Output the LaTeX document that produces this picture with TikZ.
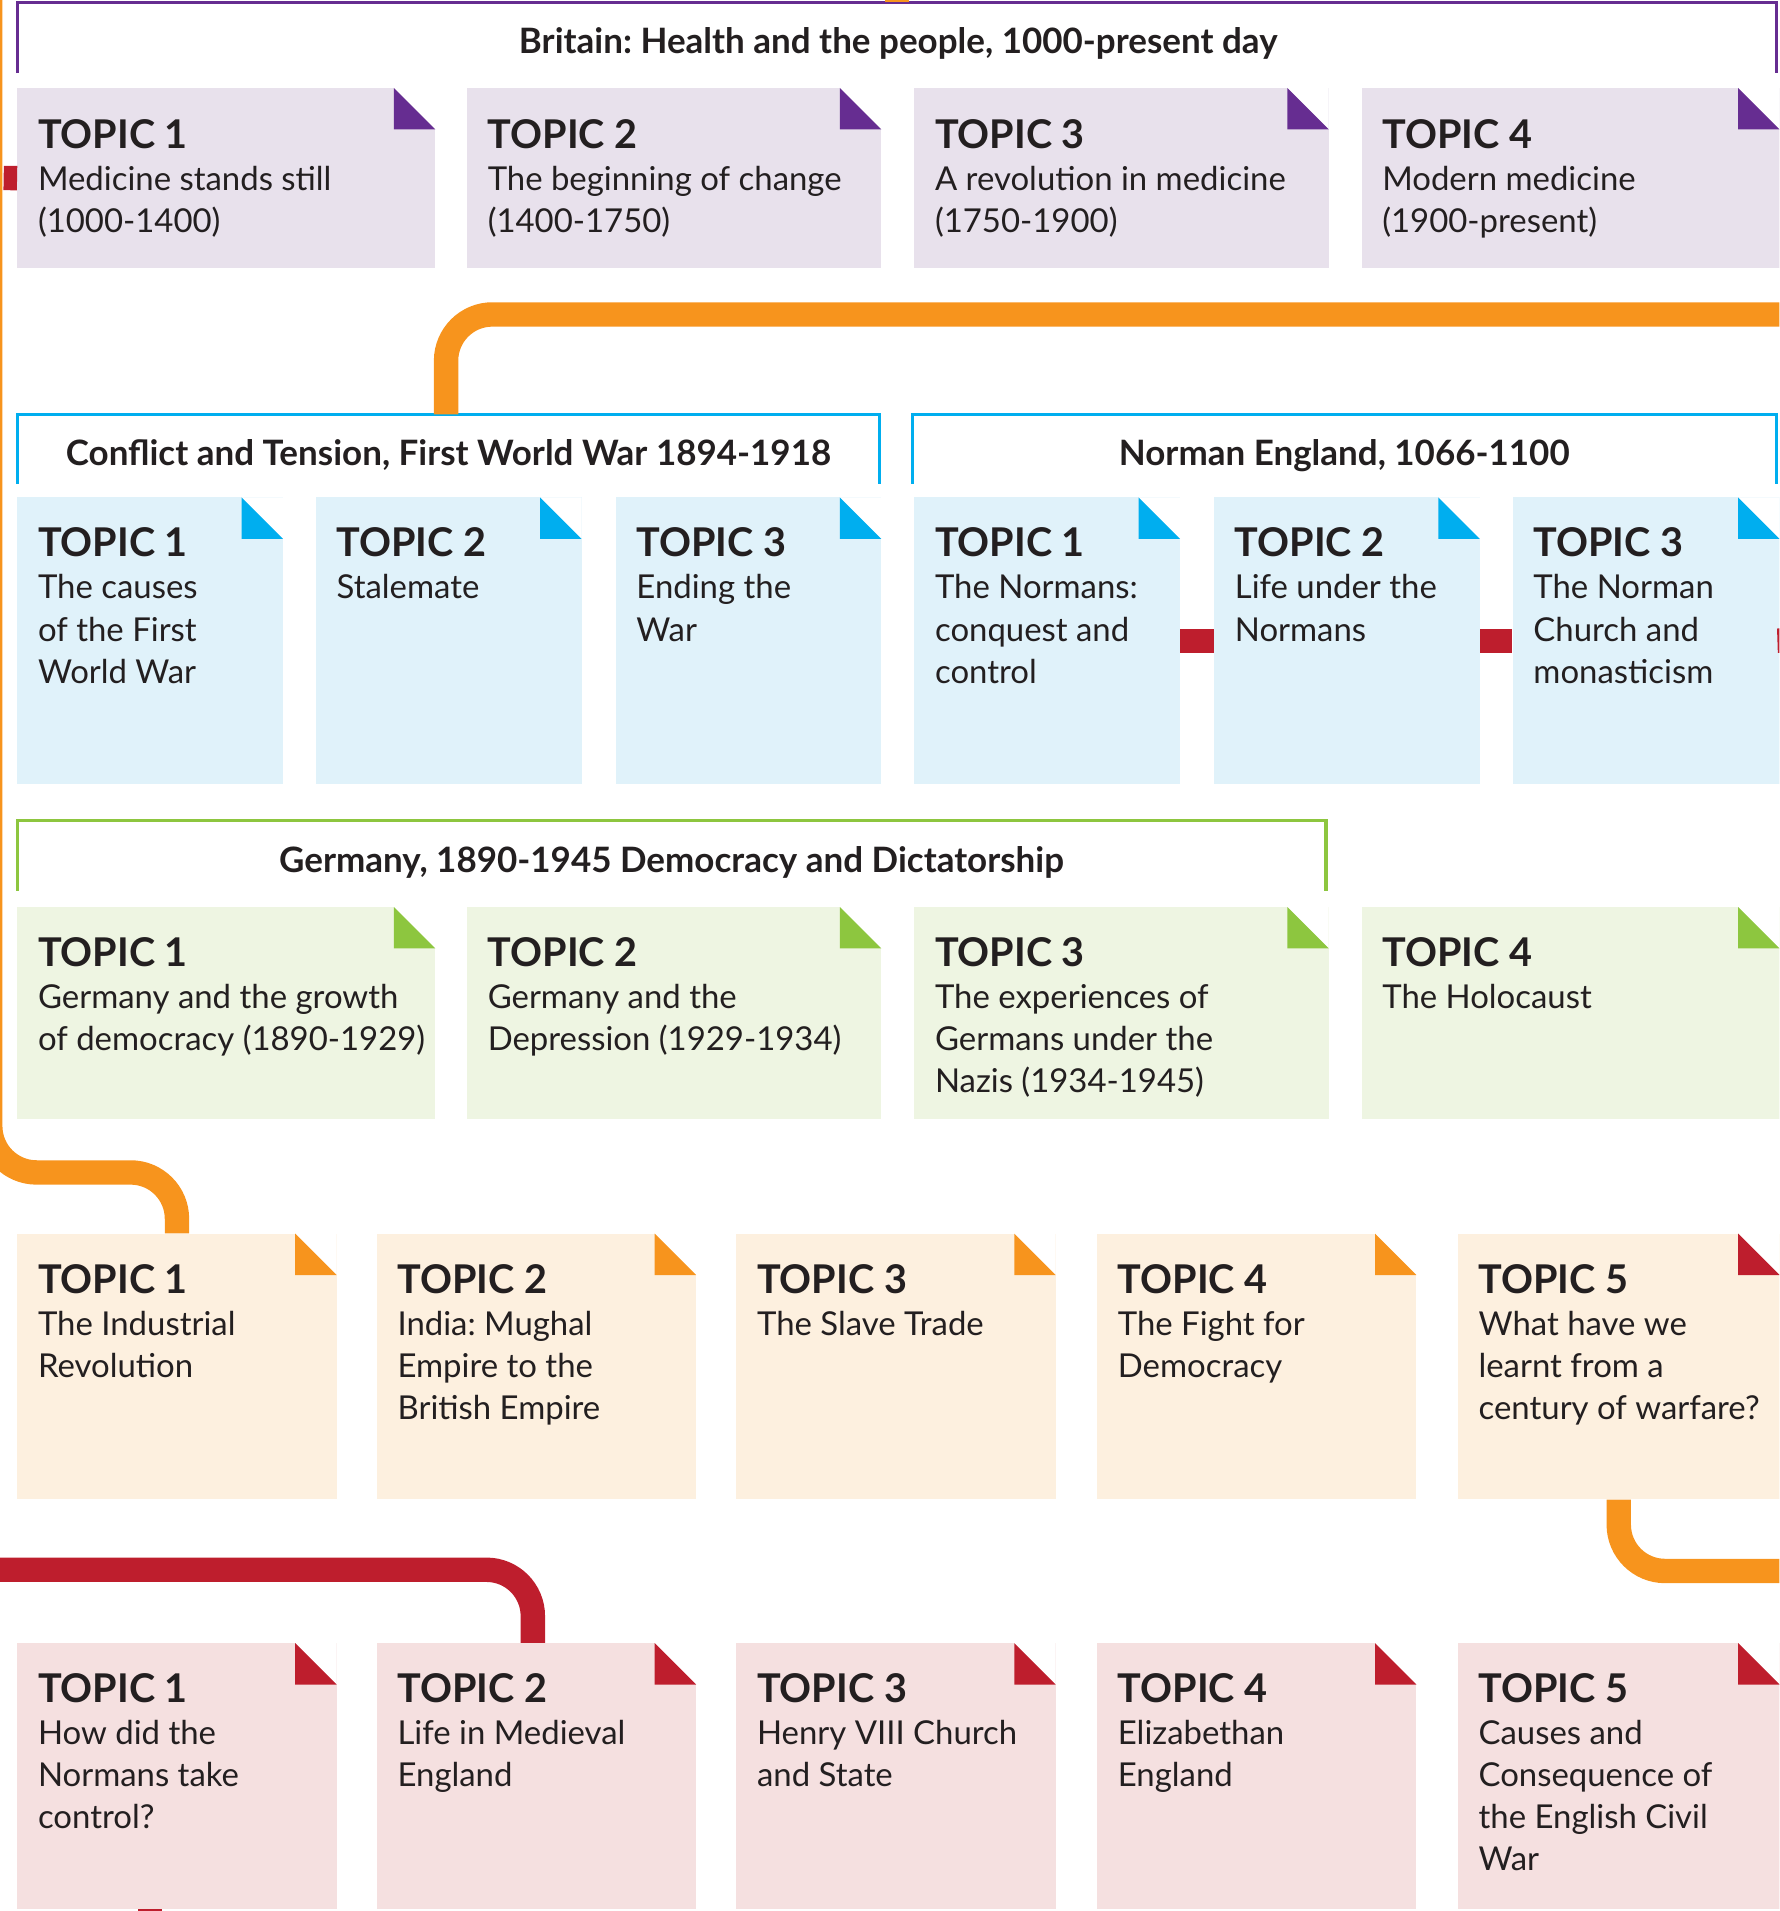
\documentclass[tikz,border=0pt]{standalone}
\usepackage{fontspec}
\setmainfont{Lato}
\usetikzlibrary{positioning}
\frenchspacing
\definecolor{ink}{HTML}{231F20}
\definecolor{purple}{HTML}{662D91}
\definecolor{lightpurple}{HTML}{E8E1EC}
\definecolor{blue}{HTML}{00AEEF}
\definecolor{lightblue}{HTML}{E0F2FA}
\definecolor{green}{HTML}{8DC63F}
\definecolor{lightgreen}{HTML}{EEF5E2}
\definecolor{orange}{HTML}{F7941D}
\definecolor{lightorange}{HTML}{FDF0DF}
\definecolor{red}{HTML}{BE1E2D}
\definecolor{lightred}{HTML}{F5E0E0}
\newcommand{\topicno}[1]{{\fontsize{32.5}{34.5}\selectfont\bfseries TOPIC #1}}

\begin{document}
\begin{tikzpicture}[x=1pt,y=-1pt,
	box/.style 2 args={fill=#1,anchor=north west,inner sep=0pt,
		path picture={
			\fill[white] ([xshift=-34pt]path picture bounding box.north east) -- (path picture bounding box.north east) -- ([yshift=-34pt]path picture bounding box.north east) -- cycle;
			\fill[#2] ([xshift=-34pt]path picture bounding box.north east) -- ([xshift=-34pt,yshift=-34pt]path picture bounding box.north east) -- ([yshift=-34pt]path picture bounding box.north east) -- cycle;}},
	txt/.style={anchor=north west,inner sep=0pt,align=left,text=ink,font=\fontsize{27}{34.5}\selectfont},
	heading/.style={anchor=base,inner sep=0pt,text=ink,font=\fontsize{28.7}{32}\selectfont\bfseries},
	frame/.style={line width=2.5pt,#1},
	route/.style={line width=20pt,#1,rounded corners=38pt}]
	\useasboundingbox (0,0) rectangle (1460,1568);
	\clip (0,0) rectangle (1460,1568);

	% Britain: health and the people
	\draw[frame=purple] (14,60) |- (1458,2) -- (1458,60);
	\node[heading] (britain) at (737,44) {Britain: Health and the people, 1000-present day};
	\coordinate (britaintop) at (736,2);
	\node[box={lightpurple}{purple},minimum width=343,minimum height=148] (brit1) at (14,72) {};
	\node[box={lightpurple}{purple},minimum width=340,minimum height=148] (brit2) at (383,72) {};
	\node[box={lightpurple}{purple},minimum width=340,minimum height=148] (brit3) at (750,72) {};
	\node[box={lightpurple}{purple},minimum width=343,minimum height=148] (brit4) at (1117,72) {};
	\node[txt,below right=26pt and 17pt of brit1.north west] (brit1t) {\topicno{1}\\Medicine stands still\\(1000-1400)};
	\node[txt,below right=26pt and 17pt of brit2.north west] (brit2t) {\topicno{2}\\The beginning of change\\(1400-1750)};
	\node[txt,below right=26pt and 17pt of brit3.north west] (brit3t) {\topicno{3}\\A revolution in medicine\\(1750-1900)};
	\node[txt,below right=26pt and 17pt of brit4.north west] (brit4t) {\topicno{4}\\Modern medicine\\(1900-present)};

	% Conflict and tension
	\draw[frame=blue] (14,397) |- (722,340) -- (722,397);
	\node[heading] (conflict) at (368,382) {Conflict and Tension, First World War 1894-1918};
	\coordinate (conflicttop) at (366,340);
	\node[box={lightblue}{blue},minimum width=218,minimum height=235] (ww1) at (14,408) {};
	\node[box={lightblue}{blue},minimum width=218,minimum height=235] (ww2) at (259,408) {};
	\node[box={lightblue}{blue},minimum width=218,minimum height=235] (ww3) at (505,408) {};
	\node[txt,below right=25pt and 17pt of ww1.north west] (ww1t) {\topicno{1}\\The causes\\of the First\\World War};
	\node[txt,below right=25pt and 17pt of ww2.north west] (ww2t) {\topicno{2}\\Stalemate};
	\node[txt,below right=25pt and 17pt of ww3.north west] (ww3t) {\topicno{3}\\Ending the\\War};

	% Norman England
	\draw[frame=blue] (749,397) |- (1458,340) -- (1458,397);
	\node[heading] (norman) at (1103,382) {Norman England, 1066-1100};
	\node[box={lightblue}{blue},minimum width=218,minimum height=235] (norm1) at (750,408) {};
	\node[box={lightblue}{blue},minimum width=218,minimum height=235] (norm2) at (996,408) {};
	\node[box={lightblue}{blue},minimum width=219,minimum height=235] (norm3) at (1241,408) {};
	\node[txt,below right=25pt and 17pt of norm1.north west] (norm1t) {\topicno{1}\\The Normans:\\conquest and\\control};
	\node[txt,below right=25pt and 17pt of norm2.north west] (norm2t) {\topicno{2}\\Life under the\\Normans};
	\node[txt,below right=25pt and 17pt of norm3.north west] (norm3t) {\topicno{3}\\The Norman\\Church and\\monasticism};

	% Germany
	\draw[frame=green] (14,731) |- (1088,673) -- (1088,731);
	\node[heading] (germany) at (551,716) {Germany, 1890-1945 Democracy and Dictatorship};
	\node[box={lightgreen}{green},minimum width=343,minimum height=174] (germ1) at (14,744) {};
	\node[box={lightgreen}{green},minimum width=340,minimum height=174] (germ2) at (383,744) {};
	\node[box={lightgreen}{green},minimum width=340,minimum height=174] (germ3) at (750,744) {};
	\node[box={lightgreen}{green},minimum width=343,minimum height=174] (germ4) at (1117,744) {};
	\node[txt,below right=25pt and 17pt of germ1.north west] (germ1t) {\topicno{1}\\Germany and the growth\\of democracy (1890-1929)};
	\node[txt,below right=25pt and 17pt of germ2.north west] (germ2t) {\topicno{2}\\Germany and the\\Depression (1929-1934)};
	\node[txt,below right=25pt and 17pt of germ3.north west] (germ3t) {\topicno{3}\\The experiences of\\Germans under the\\Nazis (1934-1945)};
	\node[txt,below right=25pt and 17pt of germ4.north west] (germ4t) {\topicno{4}\\The Holocaust};

	% thematic row
	\node[box={lightorange}{orange},minimum width=262,minimum height=218] (them1) at (14,1012) {};
	\node[box={lightorange}{orange},minimum width=262,minimum height=218] (them2) at (309,1012) {};
	\node[box={lightorange}{orange},minimum width=262,minimum height=218] (them3) at (604,1012) {};
	\node[box={lightorange}{orange},minimum width=262,minimum height=218] (them4) at (900,1012) {};
	\node[box={lightorange}{red},minimum width=264,minimum height=218] (them5) at (1196,1012) {};
	\node[txt,below right=25pt and 17pt of them1.north west] (them1t) {\topicno{1}\\The Industrial\\Revolution};
	\node[txt,below right=25pt and 17pt of them2.north west] (them2t) {\topicno{2}\\India: Mughal\\Empire to the\\British Empire};
	\node[txt,below right=25pt and 17pt of them3.north west] (them3t) {\topicno{3}\\The Slave Trade};
	\node[txt,below right=25pt and 17pt of them4.north west] (them4t) {\topicno{4}\\The Fight for\\Democracy};
	\node[txt,below right=25pt and 17pt of them5.north west] (them5t) {\topicno{5}\\What have we\\learnt from a\\century of warfare?};

	% England row
	\node[box={lightred}{red},minimum width=262,minimum height=218] (eng1) at (14,1348) {};
	\node[box={lightred}{red},minimum width=262,minimum height=218] (eng2) at (309,1348) {};
	\node[box={lightred}{red},minimum width=262,minimum height=218] (eng3) at (604,1348) {};
	\node[box={lightred}{red},minimum width=262,minimum height=218] (eng4) at (900,1348) {};
	\node[box={lightred}{red},minimum width=264,minimum height=218] (eng5) at (1196,1348) {};
	\node[txt,below right=25pt and 17pt of eng1.north west] (eng1t) {\topicno{1}\\How did the\\Normans take\\control?};
	\node[txt,below right=25pt and 17pt of eng2.north west] (eng2t) {\topicno{2}\\Life in Medieval\\England};
	\node[txt,below right=25pt and 17pt of eng3.north west] (eng3t) {\topicno{3}\\Henry VIII Church\\and State};
	\node[txt,below right=25pt and 17pt of eng4.north west] (eng4t) {\topicno{4}\\Elizabethan\\England};
	\node[txt,below right=25pt and 17pt of eng5.north west] (eng5t) {\topicno{5}\\Causes and\\Consequence of\\the English Civil\\War};

	% routes
	\coordinate (topin) at (736,-20);
	\coordinate (leftin) at (-8,-20);
	\coordinate (eastA) at (1480,258);
	\coordinate (eastB) at (1480,1289);
	\coordinate (westC) at (-20,1288);
	\coordinate (eastE) at (1480,525);
	\draw[route=orange] (topin) -- (britaintop);
	\draw[route=orange] (eastA) -| (conflicttop);
	\draw[route=orange] (leftin) |- ([yshift=50pt]them1.north) -- (them1.north);
	\draw[route=orange] (them5.south) |- (eastB);
	\draw[route=red] (westC) -| ([xshift=-3pt]eng2.north);
	\draw[route=red] (3,146) -- (brit1.west);
	\draw[route=red] (norm1) -- (norm2);
	\draw[route=red] (norm2) -- (norm3);
	\draw[route=red] ([xshift=-2pt]norm3.east) -- (eastE);
	\draw[route=red] ([xshift=-22pt]eng1.south) -- ++(0,20);
\end{tikzpicture}
\end{document}
